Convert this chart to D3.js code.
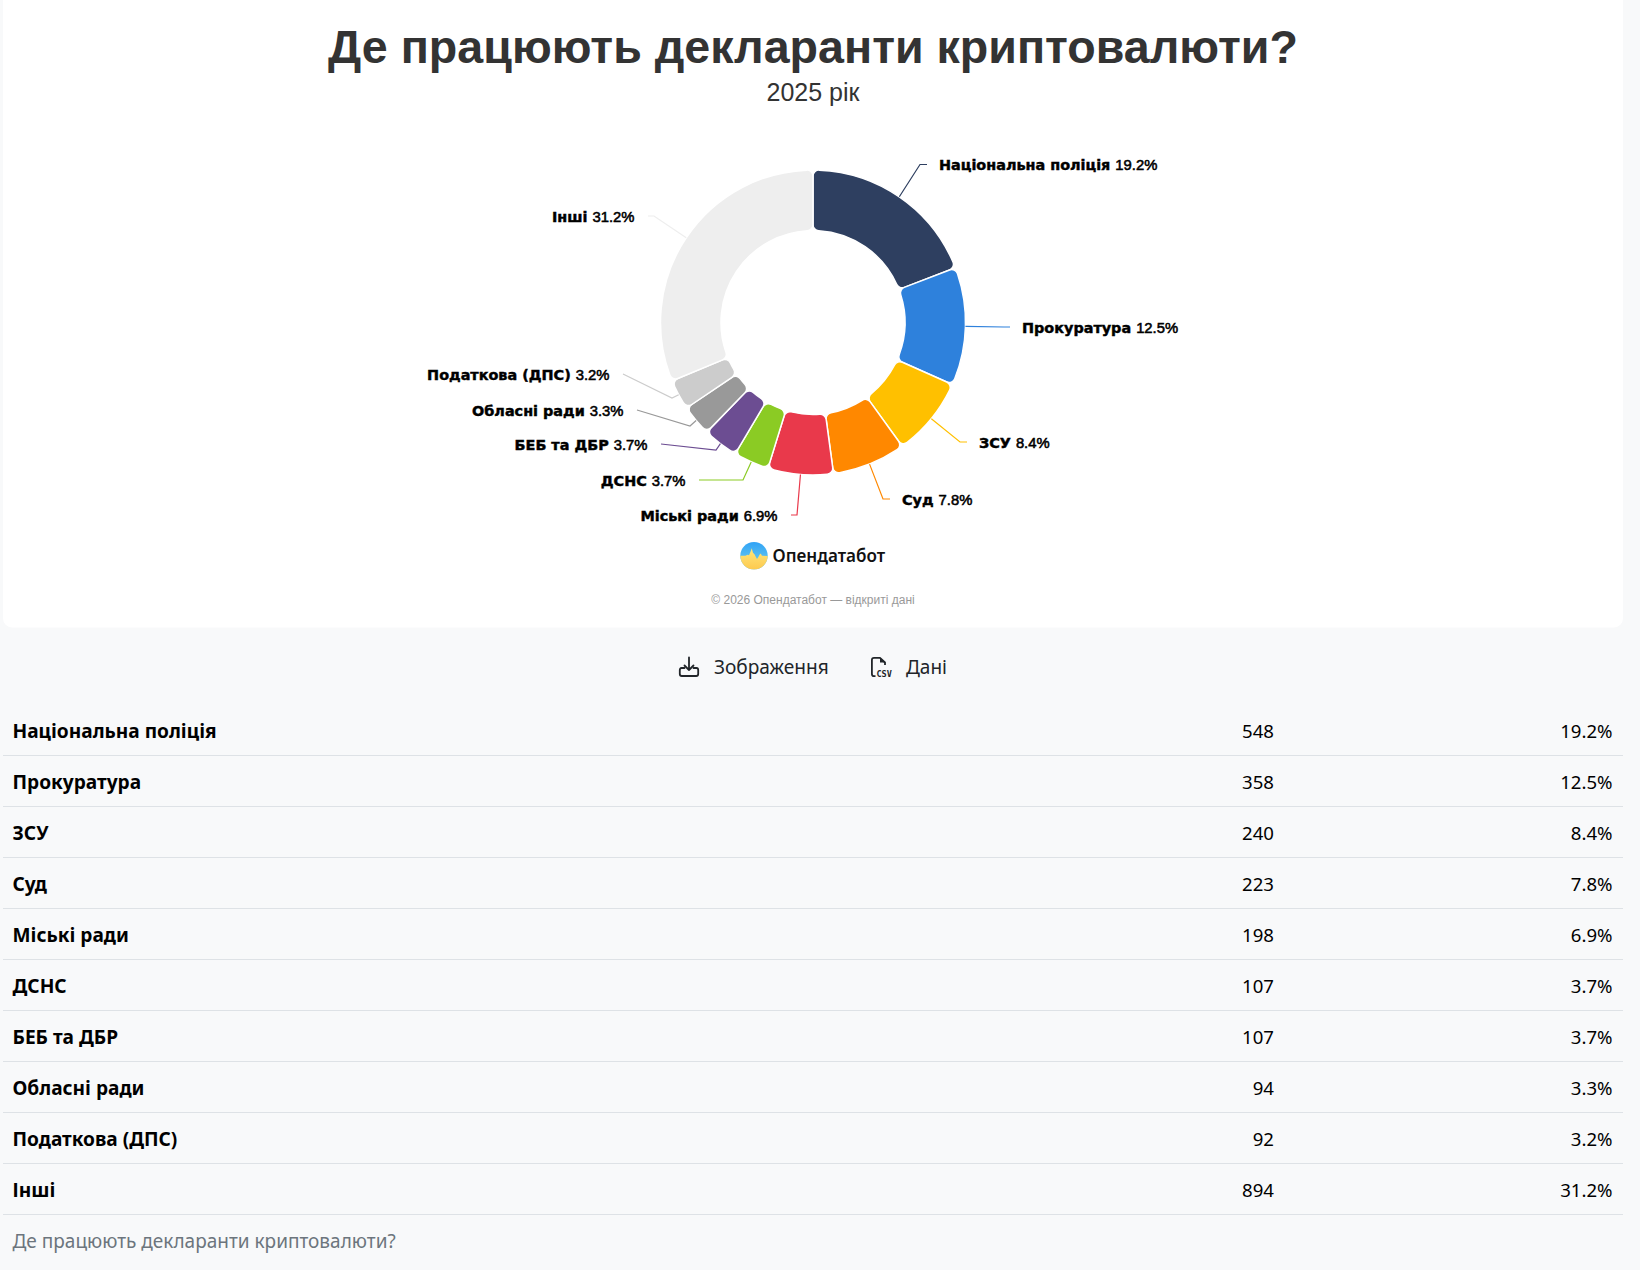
<!DOCTYPE html>
<html lang="uk">
<head>
<meta charset="utf-8">
<title>Де працюють декларанти криптовалюти?</title>
<script src="https://cdn.jsdelivr.net/npm/d3@7/dist/d3.min.js"></script>
<style>
  html, body { margin: 0; padding: 0; background: #f8f9fa; }
  svg { display: block; }
</style>
</head>
<body>
<svg id="chart" width="1640" height="1270"></svg>
<script>
// Chart content
const chartTitle = "Де працюють декларанти криптовалюти?";
const chartSubtitle = "2025 рік";
const categories = ["Національна поліція", "Прокуратура", "ЗСУ", "Суд", "Міські ради", "ДСНС", "БЕБ та ДБР", "Обласні ради", "Податкова (ДПС)", "Інші"];
const counts = [548, 358, 240, 223, 198, 107, 107, 94, 92, 894];
const shares = [19.2, 12.5, 8.4, 7.8, 6.9, 3.7, 3.7, 3.3, 3.2, 31.2];
const sliceColors = ["#2e3f60", "#2e81dc", "#ffc000", "#ff8800", "#e9394b", "#8bcb24", "#6c4d92", "#999999", "#cccccc", "#eeeeee"];

// Leader layout, relative to the ring centre: elbow x/y, then the end of the run toward the label
const leaderLayout = [
  [107, -158, 114, -158],
  [191, 4.5, 197, 4.5],
  [147, 119.5, 154, 119.5],
  [70, 176.5, 77, 176.5],
  [-16, 192.5, -22, 192.5],
  [-70, 157.5, -114, 157.5],
  [-97, 127.5, -152, 121.5],
  [-123, 103.5, -176, 87.5],
  [-141, 75.5, -190, 51.5],
  [-159, -106.5, -165, -106.5]
];

const svg = d3.select("#chart");
const sans = '"Liberation Sans", Arial, sans-serif';
const heavy = '"DejaVu Sans", Verdana, sans-serif';
const ui = '"Noto Sans", "Open Sans", sans-serif';
const cx = 813, cy = 322.5, outerR = 152.5, innerR = 92;

// Card behind the chart
svg.append("rect")
  .attr("x", 3).attr("y", -10).attr("width", 1620).attr("height", 637.5)
  .attr("rx", 9).attr("fill", "#ffffff");

// Headings
svg.append("text").attr("x", cx).attr("y", 63)
  .attr("text-anchor", "middle").attr("font-family", sans)
  .attr("font-size", 46.6).attr("font-weight", 700).attr("fill", "#333333")
  .text(chartTitle);
svg.append("text").attr("x", cx).attr("y", 101)
  .attr("text-anchor", "middle").attr("font-family", sans)
  .attr("font-size", 25).attr("fill", "#333333")
  .text(chartSubtitle);

// Ring
const pie = d3.pie().sort(null).value(d => d.count);
const rows = categories.map((name, i) => ({ name, count: counts[i], share: shares[i], color: sliceColors[i], leader: leaderLayout[i] }));
const arcs = pie(rows);
const arc = d3.arc().innerRadius(innerR).outerRadius(outerR).cornerRadius(6);
const ring = svg.append("g").attr("transform", `translate(${cx},${cy})`);

ring.selectAll("path.slice").data(arcs).join("path")
  .attr("class", "slice")
  .attr("d", arc)
  .attr("fill", d => d.data.color)
  .attr("stroke", "#ffffff").attr("stroke-width", 1.5);

// Leaders start on the outer edge at each slice's mid-angle
const leaderPoints = d => {
  const a = (d.startAngle + d.endAngle) / 2;
  const [ex, ey, tx, ty] = d.data.leader;
  return [[outerR * Math.sin(a), -outerR * Math.cos(a)], [ex, ey], [tx, ty]];
};
ring.selectAll("path.leader").data(arcs).join("path")
  .attr("class", "leader")
  .attr("d", d => d3.line()(leaderPoints(d)))
  .attr("fill", "none")
  .attr("stroke", d => d.data.color)
  .attr("stroke-width", 1.2);

// Slice labels sit past the end of each leader
const labels = ring.selectAll("text.slice-label").data(arcs).join("text")
  .attr("class", "slice-label")
  .attr("x", d => d.data.leader[2] + (d.data.leader[2] > d.data.leader[0] ? 12 : -13.5))
  .attr("y", d => d.data.leader[3] + 5.5)
  .attr("text-anchor", d => d.data.leader[2] > d.data.leader[0] ? "start" : "end")
  .attr("fill", "#000000");
labels.append("tspan")
  .attr("font-family", heavy).attr("font-size", 14.4).attr("font-weight", 700)
  .attr("stroke", "#000000").attr("stroke-width", 0.45)
  .text(d => d.data.name + " ");
labels.append("tspan")
  .attr("font-family", sans).attr("font-size", 14.8).attr("font-weight", 400)
  .attr("stroke", "#000000").attr("stroke-width", 0.55)
  .text(d => d.data.share.toFixed(1) + "%");

// Brand mark
const defs = svg.append("defs");
const skyGrad = defs.append("linearGradient").attr("id", "brandSky").attr("x1", 0).attr("y1", 0).attr("x2", 0).attr("y2", 1);
skyGrad.append("stop").attr("offset", "0%").attr("stop-color", "#2fa2f6");
skyGrad.append("stop").attr("offset", "60%").attr("stop-color", "#5cc0f0");
const wheatGrad = defs.append("linearGradient").attr("id", "brandWheat").attr("x1", 0).attr("y1", 0).attr("x2", 0).attr("y2", 1);
wheatGrad.append("stop").attr("offset", "0%").attr("stop-color", "#ffe77c");
wheatGrad.append("stop").attr("offset", "100%").attr("stop-color", "#fdc94e");
defs.append("clipPath").attr("id", "brandClip").append("circle").attr("r", 13.7);

const brand = svg.append("g").attr("transform", "translate(754,555.7)");
const brandInner = brand.append("g").attr("clip-path", "url(#brandClip)");
brandInner.append("rect").attr("x", -14).attr("y", -14).attr("width", 28).attr("height", 28).attr("fill", "url(#brandSky)");
brandInner.append("path")
  .attr("d", "M-14,0 L-8.5,0 L-6.5,-1 L-5,-0.5 L-3.5,-4 L-2.3,-7.5 L-1,-3 L0.5,-1.5 L2,1.5 L3,3.3 L4.5,1 L5.5,-1 L6.7,-2.2 L8,0 L14,0.3 L14,14 L-14,14 Z")
  .attr("fill", "url(#brandWheat)");
svg.append("text").attr("x", 772.5).attr("y", 561.5)
  .attr("font-family", ui).attr("font-size", 17.1).attr("font-weight", 600).attr("fill", "#111111")
  .text("Опендатабот");

svg.append("text").attr("x", cx).attr("y", 604)
  .attr("text-anchor", "middle").attr("font-family", sans)
  .attr("font-size", 12).attr("fill", "#999999")
  .text("© 2026 Опендатабот — відкриті дані");

// Download buttons
const download = svg.append("g").attr("transform", "translate(679,657)")
  .attr("fill", "none").attr("stroke", "#212529").attr("stroke-width", 1.8).attr("stroke-linecap", "round").attr("stroke-linejoin", "round");
download.append("path").attr("d", "M10,0.5 V13 M5.5,8.5 L10,13 L14.5,8.5");
download.append("path").attr("d", "M5.5,11 H2.5 Q0.8,11 0.8,13 V17 Q0.8,19 2.8,19 H17.2 Q19.2,19 19.2,17 V13 Q19.2,11 17.5,11 H14.5");
svg.append("text").attr("x", 714).attr("y", 674)
  .attr("font-family", ui).attr("font-size", 19.1).attr("fill", "#212529").text("Зображення");

const csv = svg.append("g").attr("transform", "translate(871,657)");
csv.append("path")
  .attr("d", "M14,8 V5.5 L9,0.8 H3 Q0.9,0.8 0.9,3 V17 Q0.9,19.2 3,19.2 H4.5")
  .attr("fill", "none").attr("stroke", "#212529").attr("stroke-width", 1.8).attr("stroke-linejoin", "round");
csv.append("path").attr("d", "M9,0.8 L14,5.5 H9 Z").attr("fill", "#212529");
csv.append("text").attr("x", 5.5).attr("y", 19.8)
  .attr("font-family", '"DejaVu Sans Mono", monospace').attr("font-size", 8.5).attr("font-weight", 700).attr("fill", "#212529")
  .text("CSV");
svg.append("text").attr("x", 906).attr("y", 674)
  .attr("font-family", ui).attr("font-size", 19).attr("fill", "#212529").text("Дані");

// Data table under the card
const rowScale = d3.scaleBand().domain(categories).range([704.5, 1214.5]);
const rowGroups = svg.append("g").selectAll("g").data(rows).join("g")
  .attr("transform", d => `translate(0,${rowScale(d.name)})`)
  .attr("font-family", ui).attr("fill", "#000000");
rowGroups.append("text").attr("x", 12.5).attr("y", 33.5).attr("font-size", 19.1).attr("font-weight", 700).text(d => d.name);
rowGroups.append("text").attr("x", 1274).attr("y", 33.5).attr("font-size", 18.6).attr("text-anchor", "end").text(d => d.count);
rowGroups.append("text").attr("x", 1612.5).attr("y", 33.5).attr("font-size", 18.6).attr("text-anchor", "end").text(d => d.share.toFixed(1) + "%");
rowGroups.append("line")
  .attr("x1", 3).attr("x2", 1623)
  .attr("y1", rowScale.bandwidth()).attr("y2", rowScale.bandwidth())
  .attr("stroke", "#dee2e6").attr("stroke-width", 1);

svg.append("text").attr("x", 12.5).attr("y", 1248)
  .attr("font-family", ui).attr("font-size", 19).attr("fill", "#6c757d")
  .text(chartTitle);
</script>
</body>
</html>
